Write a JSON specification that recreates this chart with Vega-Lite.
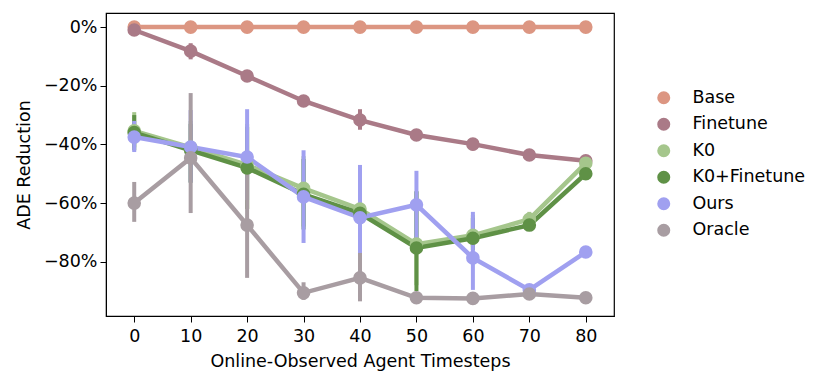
{
  "$schema": "https://vega.github.io/schema/vega-lite/v6.json",
  "autosize": {"type": "none"},
  "width": 508,
  "height": 303,
  "padding": {"left": 106, "top": 13, "right": 217, "bottom": 69},
  "config": {
    "font": "DejaVu Sans",
    "view": {"stroke": "black", "strokeWidth": 1.2},
    "axis": {"labelFont": "DejaVu Sans", "titleFont": "DejaVu Sans", "labelFontSize": 17.5, "titleFontSize": 17.5, "titleFontWeight": "normal", "labelColor": "black", "titleColor": "black", "domainColor": "black", "tickColor": "black", "grid": false, "tickSize": 6, "labelPadding": 3},
    "legend": {"labelFont": "DejaVu Sans", "labelFontSize": 17.5, "labelColor": "black"}
  },
  "data": {"values": [
    {"t": 0, "method": "Base", "v": 0, "lo": 0, "hi": 0},
    {"t": 10, "method": "Base", "v": 0, "lo": 0, "hi": 0},
    {"t": 20, "method": "Base", "v": 0, "lo": 0, "hi": 0},
    {"t": 30, "method": "Base", "v": 0, "lo": 0, "hi": 0},
    {"t": 40, "method": "Base", "v": 0, "lo": 0, "hi": 0},
    {"t": 50, "method": "Base", "v": 0, "lo": 0, "hi": 0},
    {"t": 60, "method": "Base", "v": 0, "lo": 0, "hi": 0},
    {"t": 70, "method": "Base", "v": 0, "lo": 0, "hi": 0},
    {"t": 80, "method": "Base", "v": 0, "lo": 0, "hi": 0},
    {"t": 0, "method": "Finetune", "v": -1, "lo": -1.8, "hi": -0.2},
    {"t": 10, "method": "Finetune", "v": -8.2, "lo": -11, "hi": -5.5},
    {"t": 20, "method": "Finetune", "v": -16.7, "lo": -17.5, "hi": -16},
    {"t": 30, "method": "Finetune", "v": -25.2, "lo": -26, "hi": -24.5},
    {"t": 40, "method": "Finetune", "v": -31.7, "lo": -35, "hi": -28},
    {"t": 50, "method": "Finetune", "v": -36.8, "lo": -37.5, "hi": -36},
    {"t": 60, "method": "Finetune", "v": -39.9, "lo": -42, "hi": -38},
    {"t": 70, "method": "Finetune", "v": -43.6, "lo": -44.3, "hi": -43},
    {"t": 80, "method": "Finetune", "v": -45.6, "lo": -46.3, "hi": -45},
    {"t": 0, "method": "K0", "v": -35.4, "lo": -41, "hi": -29},
    {"t": 10, "method": "K0", "v": -41, "lo": -53, "hi": -32},
    {"t": 20, "method": "K0", "v": -47, "lo": -62, "hi": -33},
    {"t": 30, "method": "K0", "v": -55, "lo": -68, "hi": -44},
    {"t": 40, "method": "K0", "v": -62, "lo": -75, "hi": -48},
    {"t": 50, "method": "K0", "v": -74, "lo": -88, "hi": -56},
    {"t": 60, "method": "K0", "v": -71, "lo": -75, "hi": -64},
    {"t": 70, "method": "K0", "v": -65.5, "lo": -68, "hi": -63},
    {"t": 80, "method": "K0", "v": -46.4, "lo": -48, "hi": -45},
    {"t": 0, "method": "K0+Finetune", "v": -36, "lo": -42, "hi": -30},
    {"t": 10, "method": "K0+Finetune", "v": -42, "lo": -53, "hi": -33},
    {"t": 20, "method": "K0+Finetune", "v": -48, "lo": -62, "hi": -34},
    {"t": 30, "method": "K0+Finetune", "v": -57, "lo": -69, "hi": -45},
    {"t": 40, "method": "K0+Finetune", "v": -63.5, "lo": -76, "hi": -49},
    {"t": 50, "method": "K0+Finetune", "v": -75.3, "lo": -90, "hi": -56},
    {"t": 60, "method": "K0+Finetune", "v": -72, "lo": -76, "hi": -65},
    {"t": 70, "method": "K0+Finetune", "v": -67.5, "lo": -69.5, "hi": -65.5},
    {"t": 80, "method": "K0+Finetune", "v": -50, "lo": -51.5, "hi": -48.5},
    {"t": 0, "method": "Ours", "v": -37.5, "lo": -42.6, "hi": -32},
    {"t": 10, "method": "Ours", "v": -40.9, "lo": -53, "hi": -28.3},
    {"t": 20, "method": "Ours", "v": -44.3, "lo": -59, "hi": -28},
    {"t": 30, "method": "Ours", "v": -57.9, "lo": -73.6, "hi": -42},
    {"t": 40, "method": "Ours", "v": -65, "lo": -81, "hi": -47},
    {"t": 50, "method": "Ours", "v": -60.6, "lo": -72, "hi": -49},
    {"t": 60, "method": "Ours", "v": -78.7, "lo": -89.6, "hi": -63},
    {"t": 70, "method": "Ours", "v": -89.6, "lo": -90.5, "hi": -88.5},
    {"t": 80, "method": "Ours", "v": -76.7, "lo": -77.5, "hi": -76},
    {"t": 0, "method": "Oracle", "v": -60, "lo": -66.4, "hi": -52.8},
    {"t": 10, "method": "Oracle", "v": -44.6, "lo": -63.4, "hi": -22.5},
    {"t": 20, "method": "Oracle", "v": -67.5, "lo": -85.5, "hi": -45},
    {"t": 30, "method": "Oracle", "v": -90.6, "lo": -93, "hi": -87},
    {"t": 40, "method": "Oracle", "v": -85.5, "lo": -93.5, "hi": -77},
    {"t": 50, "method": "Oracle", "v": -92.3, "lo": -93, "hi": -91.5},
    {"t": 60, "method": "Oracle", "v": -92.5, "lo": -93, "hi": -92},
    {"t": 70, "method": "Oracle", "v": -91, "lo": -93, "hi": -88.5},
    {"t": 80, "method": "Oracle", "v": -92.3, "lo": -93, "hi": -91.5}
  ]},
  "encoding": {
    "x": {"field": "t", "type": "quantitative", "scale": {"domain": [-5, 85], "nice": false, "zero": false},
          "axis": {"values": [0, 10, 20, 30, 40, 50, 60, 70, 80], "title": "Online-Observed Agent Timesteps", "titlePadding": 8, "labelPadding": 5}},
    "xOffset": {"field": "method", "type": "nominal", "scale": {"domain": ["Base", "Finetune", "K0", "K0+Finetune", "Ours", "Oracle"], "range": [-4.5, 4.5]}},
    "color": {"field": "method", "type": "nominal",
      "scale": {"domain": ["Base", "Finetune", "K0", "K0+Finetune", "Ours", "Oracle"], "range": ["#DC9682", "#AA7A87", "#A5C68C", "#5F9146", "#A0A0F0", "#A89DA2"]},
      "legend": {"title": null, "orient": "none", "legendX": 549, "legendY": 76, "symbolType": "circle", "symbolSize": 170, "symbolStrokeWidth": 0, "symbolOpacity": 1, "rowPadding": 7.5, "labelOffset": 20}}
  },
  "layer": [
    {"mark": {"type": "rule", "strokeWidth": 4},
     "encoding": {"y": {"field": "lo", "type": "quantitative"}, "y2": {"field": "hi"}}},
    {"mark": {"type": "line", "strokeWidth": 4.5},
     "encoding": {"y": {"field": "v", "type": "quantitative"}}},
    {"mark": {"type": "point", "filled": true, "opacity": 1, "size": 185},
     "encoding": {"y": {"field": "v", "type": "quantitative", "scale": {"domain": [-98.5, 4.8], "nice": false, "zero": false},
       "axis": {"values": [0, -20, -40, -60, -80], "labelExpr": "(datum.value < 0 ? '\u2212' : '') + abs(datum.value) + '%'", "title": "ADE Reduction", "titlePadding": 10}}}}
  ]
}
